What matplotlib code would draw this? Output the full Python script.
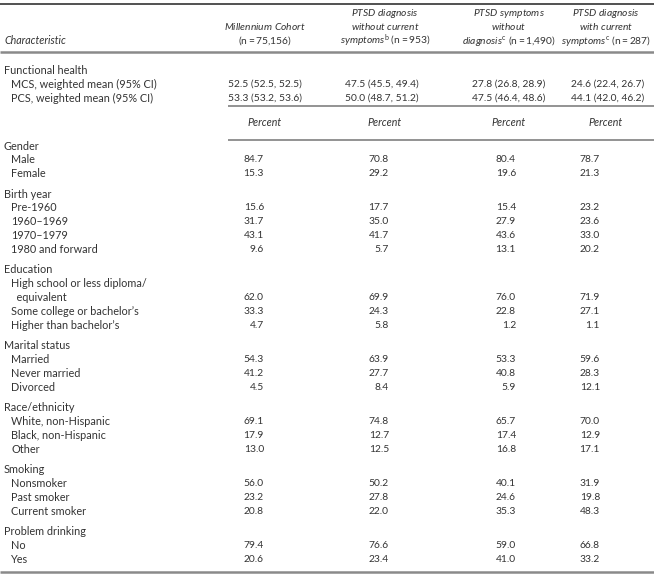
"""Table: characteristics of Millennium Cohort participants by PTSD diagnosis / symptom status."""
import matplotlib
matplotlib.use("Agg")
import matplotlib.pyplot as plt

# --- Data ---------------------------------------------------------------------------------------- #
HEAD_LINES = [
    [r"$\mathit{Millennium\ Cohort}$", r"$\mathrm{(n{=}}\mathit{75{,}156)}$"],
    [r"$\mathit{PTSD\ diagnosis}$", r"$\mathit{without\ current}$",
     r"$\mathit{symptoms}^{\mathrm{b}}\ \mathrm{(n{=}}\mathit{953)}$"],
    [r"$\mathit{PTSD\ symptoms}$", r"$\mathit{without}$",
     r"$\mathit{diagnosis}^{\mathrm{c}}\ \mathrm{(n{=}}\mathit{1{,}490)}$"],
    [r"$\mathit{PTSD\ diagnosis}$", r"$\mathit{with\ current}$",
     r"$\mathit{symptoms}^{\mathrm{c}}\ \mathrm{(n{=}}\mathit{287)}$"],
]

FH_LABELS = ["MCS, weighted mean (95% CI)", "PCS, weighted mean (95% CI)"]
MCS_MEAN = [52.5, 47.5, 27.8, 24.6]
MCS_LO = [52.5, 45.5, 26.8, 22.4]
MCS_HI = [52.5, 49.4, 28.9, 26.7]
PCS_MEAN = [53.3, 50.0, 47.5, 44.1]
PCS_LO = [53.2, 48.7, 46.4, 42.0]
PCS_HI = [53.6, 51.2, 48.6, 46.2]

GROUPS = ["Gender", "Birth year", "Education", "Marital status", "Race/ethnicity",
          "Smoking", "Problem drinking"]
ROW_LABELS = [
    ["Male", "Female"],
    ["Pre-1960", "1960\u20131969", "1970\u20131979", "1980 and forward"],
    ["High school or less diploma/\n  equivalent", "Some college or bachelor\u2019s",
     "Higher than bachelor\u2019s"],
    ["Married", "Never married", "Divorced"],
    ["White, non-Hispanic", "Black, non-Hispanic", "Other"],
    ["Nonsmoker", "Past smoker", "Current smoker"],
    ["No", "Yes"],
]
COHORT = [84.7, 15.3, 15.6, 31.7, 43.1, 9.6, 62.0, 33.3, 4.7, 54.3, 41.2, 4.5,
          69.1, 17.9, 13.0, 56.0, 23.2, 20.8, 79.4, 20.6]
DIAG_NO_SYMPT = [70.8, 29.2, 17.7, 35.0, 41.7, 5.7, 69.9, 24.3, 5.8, 63.9, 27.7, 8.4,
                 74.8, 12.7, 12.5, 50.2, 27.8, 22.0, 76.6, 23.4]
SYMPT_NO_DIAG = [80.4, 19.6, 15.4, 27.9, 43.6, 13.1, 76.0, 22.8, 1.2, 53.3, 40.8, 5.9,
                 65.7, 17.4, 16.8, 40.1, 24.6, 35.3, 59.0, 41.0]
DIAG_WITH_SYMPT = [78.7, 21.3, 23.2, 23.6, 33.0, 20.2, 71.9, 27.1, 1.1, 59.6, 28.3, 12.1,
                   70.0, 12.9, 17.1, 31.9, 19.8, 48.3, 66.8, 33.2]

# --- Layout (pixel coordinates) ------------------------------------------------------------------ #
W, H = 654, 577
COL_CENTER = [265, 385, 509, 606]
COL_CI_LEFT = [228, 345, 472, 571]
COL_PCT_RIGHT = [264, 389, 516, 600]
STEP = 13.9
GAP = 6.3
FS_LABEL = 7.8
FS_NUM = 7.4
FS_HEAD = 7.4
INK = "#333333"
RULE = "#8a8a8a"

plt.rcParams["font.family"] = ["Lato", "DejaVu Sans"]
plt.rcParams["mathtext.fontset"] = "custom"
plt.rcParams["mathtext.rm"] = "Lato"
plt.rcParams["mathtext.it"] = "Lato:italic"

fig = plt.figure(figsize=(W / 100, H / 100), dpi=100)
ax = fig.add_axes([0, 0, 1, 1])
ax.set_xlim(0, W)
ax.set_ylim(H, 0)
ax.axis("off")


def txt(x, y, s, ha="left", fs=FS_LABEL, **kw):
    ax.text(x, y, s, ha=ha, va="center", fontsize=fs, color=INK, **kw)


# rules
ax.plot([0, W], [3.5, 3.5], color="#222222", lw=1.1, solid_capstyle="butt")
ax.plot([0, W], [52, 52], color=RULE, lw=1.8, solid_capstyle="butt")
ax.plot([228, W], [106, 106], color=RULE, lw=1.3, solid_capstyle="butt")
ax.plot([228, W], [139.5, 139.5], color=RULE, lw=1.3, solid_capstyle="butt")
ax.plot([0, W], [572, 572], color=RULE, lw=1.8, solid_capstyle="butt")

# column heads
txt(4, 41, "Characteristic", style="italic", fs=FS_HEAD + 0.3)
for c, lines in enumerate(HEAD_LINES):
    y0 = 41 - 14 * (len(lines) - 1)
    for i, line in enumerate(lines):
        txt(COL_CENTER[c], y0 + 14 * i, line, ha="center", fs=FS_HEAD)

# functional health
y = 70
txt(4, y, "Functional health")
for k, (lab, mean, lo, hi) in enumerate(zip(FH_LABELS, [MCS_MEAN, PCS_MEAN],
                                             [MCS_LO, PCS_LO], [MCS_HI, PCS_HI])):
    yy = y + 14 * (k + 1)
    txt(11, yy, lab)
    for c in range(4):
        txt(COL_CI_LEFT[c], yy, f"{mean[c]:.1f} ({lo[c]:.1f}, {hi[c]:.1f})", fs=FS_NUM)

for c in range(4):
    txt(COL_CENTER[c], 122.5, "Percent", ha="center", style="italic", fs=FS_HEAD + 0.3)

# percent rows
series = [COHORT, DIAG_NO_SYMPT, SYMPT_NO_DIAG, DIAG_WITH_SYMPT]
y = 146
idx = 0
for g, labels in zip(GROUPS, ROW_LABELS):
    txt(4, y, g)
    y += STEP
    for lab in labels:
        parts = lab.split("\n")
        for j, p in enumerate(parts):
            txt(11, y + STEP * j, p)
        y += STEP * (len(parts) - 1)
        for c in range(4):
            txt(COL_PCT_RIGHT[c], y, f"{series[c][idx]:.1f}", ha="right", fs=FS_NUM)
        idx += 1
        y += STEP
    y += GAP

fig.savefig("out.png", dpi=100, facecolor="white")
